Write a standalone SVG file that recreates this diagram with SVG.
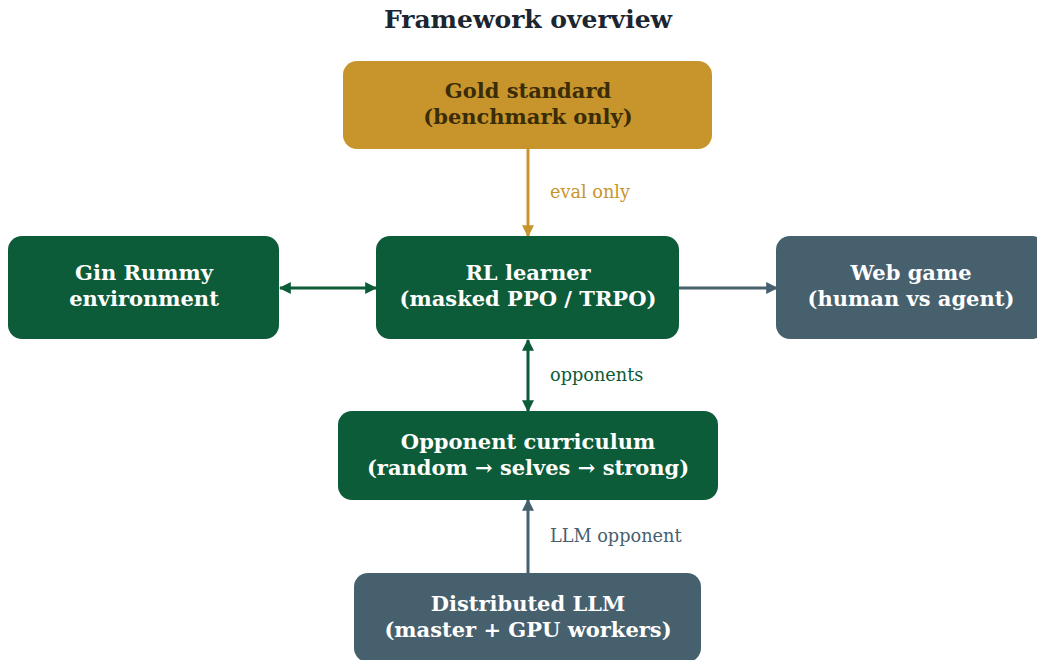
<svg xmlns="http://www.w3.org/2000/svg" width="1037" height="660" viewBox="0 0 1037 660">
<style>
.t{font-family:"DejaVu Serif","Liberation Serif",serif;font-weight:bold;font-size:21px;text-anchor:middle}
.w{fill:#ffffff}
.lbl{font-family:"DejaVu Serif","Liberation Serif",serif;font-size:17.7px}
.green{fill:#0C5B39}
.slate{fill:#47606E}
.gold{fill:#C8952C}
</style>
<defs>
<marker id="ag" viewBox="0 0 10 10" refX="9" refY="5" markerWidth="4" markerHeight="4" orient="auto-start-reverse" markerUnits="strokeWidth"><path d="M0,0 L10,5 L0,10 z" fill="#0C5B39"/></marker>
<marker id="as" viewBox="0 0 10 10" refX="9" refY="5" markerWidth="4" markerHeight="4" orient="auto-start-reverse" markerUnits="strokeWidth"><path d="M0,0 L10,5 L0,10 z" fill="#47606E"/></marker>
<marker id="ao" viewBox="0 0 10 10" refX="9" refY="5" markerWidth="4" markerHeight="4" orient="auto-start-reverse" markerUnits="strokeWidth"><path d="M0,0 L10,5 L0,10 z" fill="#C8952C"/></marker>
</defs>
<rect width="1037" height="660" fill="#ffffff"/>
<text x="528" y="28" class="t" style="font-size:25px" fill="#1B2631">Framework overview</text>
<g id="connectors" fill="none" stroke-width="3">
<line x1="528" y1="149" x2="528" y2="236" stroke="#C8952C" marker-end="url(#ao)"/>
<line x1="280" y1="288" x2="376" y2="288" stroke="#0C5B39" marker-start="url(#ag)" marker-end="url(#ag)"/>
<line x1="679" y1="288" x2="777" y2="288" stroke="#47606E" marker-end="url(#as)"/>
<line x1="528" y1="340" x2="528" y2="411" stroke="#0C5B39" marker-start="url(#ag)" marker-end="url(#ag)"/>
<line x1="528" y1="573" x2="528" y2="500" stroke="#47606E" marker-end="url(#as)"/>
<text x="550" y="198" class="lbl" fill="#C8952C" stroke="none">eval only</text>
<text x="550" y="381" class="lbl" fill="#0C5B39" stroke="none">opponents</text>
<text x="550" y="542" class="lbl" fill="#47606E" stroke="none">LLM opponent</text>
</g>
<g id="gold">
<rect x="343" y="61" width="369" height="88" rx="14" class="gold"/>
<text x="528" y="98" class="t" fill="#3A2C05">Gold standard</text>
<text x="528" y="124" class="t" fill="#3A2C05">(benchmark only)</text>
</g>
<g id="env">
<rect x="8" y="236" width="271" height="103" rx="14" class="green"/>
<text x="144" y="280" class="t w">Gin Rummy</text>
<text x="144" y="306" class="t w">environment</text>
</g>
<g id="rl">
<rect x="376" y="236" width="303" height="103" rx="14" class="green"/>
<text x="528" y="280" class="t w">RL learner</text>
<text x="528" y="306" class="t w">(masked PPO / TRPO)</text>
</g>
<g id="web">
<rect x="776" y="236" width="270" height="103" rx="14" class="slate"/>
<text x="911" y="280" class="t w">Web game</text>
<text x="911" y="306" class="t w">(human vs agent)</text>
</g>
<g id="curriculum">
<rect x="338" y="411" width="380" height="89" rx="14" class="green"/>
<text x="528" y="449" class="t w">Opponent curriculum</text>
<text x="528" y="475" class="t w">(random → selves → strong)</text>
</g>
<g id="llm">
<rect x="354" y="573" width="347" height="89" rx="14" class="slate"/>
<text x="528" y="611" class="t w">Distributed LLM</text>
<text x="528" y="637" class="t w">(master + GPU workers)</text>
</g>
</svg>
